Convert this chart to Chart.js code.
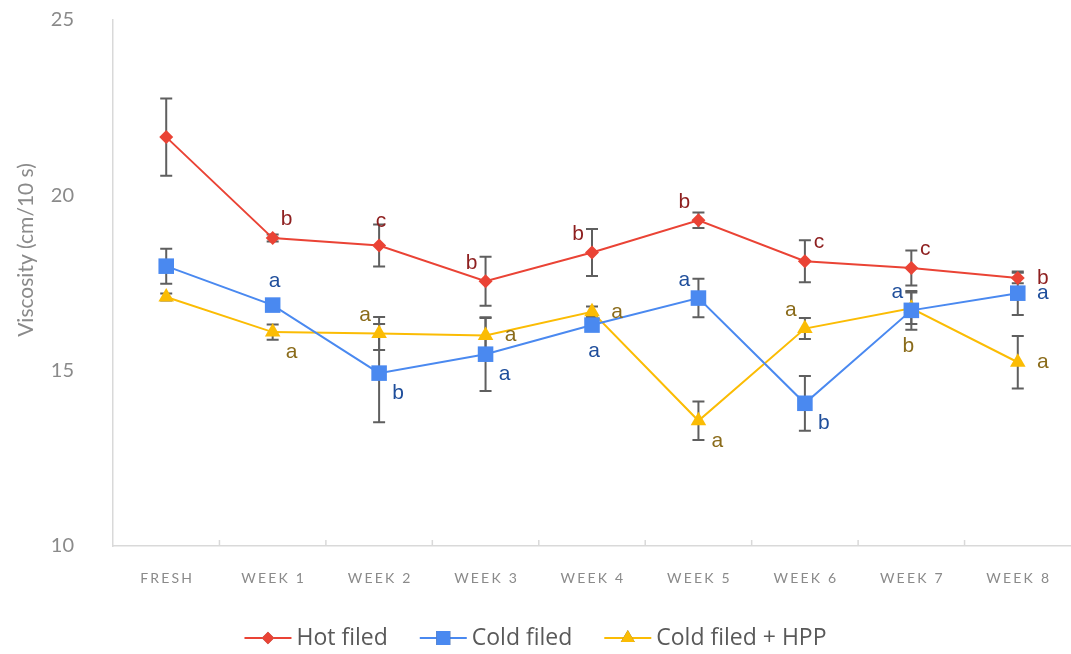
<!DOCTYPE html>
<html>
<head>
<meta charset="utf-8">
<script src="https://cdn.jsdelivr.net/npm/chart.js@4.4.1/dist/chart.umd.min.js"></script>
<style>
    html, body { margin: 0; padding: 0; background: #ffffff; overflow: hidden; }
    #wrap { width: 1071px; height: 654px; }
</style>
</head>
<body>
<div id="wrap"><canvas id="viscChart"></canvas></div>
<script>
// categories and values
const categories = ['FRESH', 'WEEK 1', 'WEEK 2', 'WEEK 3', 'WEEK 4', 'WEEK 5', 'WEEK 6', 'WEEK 7', 'WEEK 8'];
const yTicks = [10, 15, 20, 25];

const hotValues = [21.66, 18.78, 18.57, 17.55, 18.37, 19.29, 18.12, 17.93, 17.64];
const hotErrors = [1.1, 0.1, 0.6, 0.7, 0.67, 0.22, 0.6, 0.5, 0.15];
const hotLetters = ['', 'b', 'c', 'b', 'b', 'b', 'c', 'c', 'b'];

const coldValues = [17.98, 16.87, 14.93, 15.47, 16.3, 17.07, 14.07, 16.72, 17.21];
const coldErrors = [0.5, 0.15, 1.4, 1.05, 0.15, 0.55, 0.78, 0.55, 0.62];
const coldLetters = ['', 'a', 'b', 'a', 'a', 'a', 'b', 'a', 'a'];

const hppValues = [17.1, 16.1, 16.06, 16.0, 16.68, 13.57, 16.2, 16.78, 15.24];
const hppErrors = [0.1, 0.22, 0.47, 0.5, 0.15, 0.55, 0.3, 0.45, 0.75];
const hppLetters = ['', 'a', 'a', 'a', 'a', 'a', 'a', 'b', 'a'];

// where each letter sits relative to its point
const hotLetterPos = ['', 'ne', 'n', 'nw', 'nw', 'nw', 'ne', 'ne', 'e'];
const coldLetterPos = ['', 'n', 'se', 'se', 's', 'nw', 'se', 'nw', 'e'];
const hppLetterPos = ['', 'se', 'nw', 'e', 'e', 'se', 'nw', 'sb', 'e'];

const seriesLook = [
    { color: '#EA4335', letterColor: '#8E1F1F', pointStyle: 'rectRot', radius: 7 },
    { color: '#4A89F0', letterColor: '#1F4E9B', pointStyle: 'rect', radius: 11 },
    { color: '#FBBC04', letterColor: '#8A6B1A', pointStyle: 'triangle', radius: 9 }
];

const LETTER_OFFSETS = {
    n: [2, -24], s: [2, 26], sb: [-3, 38], e: [25, 0], ne: [14, -19],
    nw: [-14, -18], se: [19, 20]
};

function makeDataset(label, values, errors, letters, pos, look) {
    return {
        label: label,
        data: values,
        errors: errors,
        letters: letters,
        letterPos: pos,
        letterColor: look.letterColor,
        borderColor: look.color,
        backgroundColor: look.color,
        borderWidth: 2,
        pointStyle: look.pointStyle,
        pointRadius: look.radius,
        pointHoverRadius: look.radius,
        pointBorderWidth: 0,
        tension: 0
    };
}

const datasets = [
    makeDataset('Hot filed', hotValues, hotErrors, hotLetters, hotLetterPos, seriesLook[0]),
    makeDataset('Cold filed', coldValues, coldErrors, coldLetters, coldLetterPos, seriesLook[1]),
    makeDataset('Cold filed + HPP', hppValues, hppErrors, hppLetters, hppLetterPos, seriesLook[2])
];

// error bars go under the lines and markers
const errorBars = {
    id: 'errorBars',
    beforeDatasetsDraw(chart) {
        const ctx = chart.ctx;
        const y = chart.scales.y;
        ctx.save();
        ctx.strokeStyle = '#5f5f5f';
        ctx.lineWidth = 2;
        chart.data.datasets.forEach((ds, i) => {
            const meta = chart.getDatasetMeta(i);
            meta.data.forEach((pt, j) => {
                const e = ds.errors[j];
                const top = y.getPixelForValue(ds.data[j] + e);
                const bot = y.getPixelForValue(ds.data[j] - e);
                ctx.beginPath();
                ctx.moveTo(pt.x, top); ctx.lineTo(pt.x, bot);
                ctx.moveTo(pt.x - 6, top); ctx.lineTo(pt.x + 6, top);
                ctx.moveTo(pt.x - 6, bot); ctx.lineTo(pt.x + 6, bot);
                ctx.stroke();
            });
        });
        ctx.restore();
    }
};

// letters, x labels, tick marks, y title and legend
const decorations = {
    id: 'decorations',
    afterDraw(chart) {
        const ctx = chart.ctx;
        const x = chart.scales.x;
        const area = chart.chartArea;
        ctx.save();

        // significance letters
        ctx.font = '21px "Liberation Sans", Arial, sans-serif';
        ctx.textAlign = 'center';
        ctx.textBaseline = 'middle';
        chart.data.datasets.forEach((ds, i) => {
            const meta = chart.getDatasetMeta(i);
            ctx.fillStyle = ds.letterColor;
            meta.data.forEach((pt, j) => {
                if (!ds.letters[j]) return;
                const off = LETTER_OFFSETS[ds.letterPos[j]];
                ctx.fillText(ds.letters[j], pt.x + off[0], pt.y + off[1]);
            });
        });

        // small upward tick marks between categories
        ctx.strokeStyle = '#d9d9d9';
        ctx.lineWidth = 1.5;
        for (let i = 1; i < categories.length; i++) {
            const px = (x.getPixelForValue(i - 1) + x.getPixelForValue(i)) / 2;
            ctx.beginPath();
            ctx.moveTo(px, area.bottom);
            ctx.lineTo(px, area.bottom - 6);
            ctx.stroke();
        }

        // x category labels with letter spacing
        ctx.fillStyle = '#8a8a8a';
        ctx.font = '14px Lato, "Open Sans", sans-serif';
        ctx.letterSpacing = '2.2px';
        ctx.textAlign = 'center';
        categories.forEach((c, i) => {
            ctx.fillText(c, x.getPixelForValue(i) + 1, 578);
        });
        ctx.letterSpacing = '0px';

        // y axis title
        ctx.save();
        ctx.translate(26, 250);
        ctx.rotate(-Math.PI / 2);
        ctx.font = '21px Lato, "Open Sans", sans-serif';
        ctx.fillStyle = '#8a8a8a';
        ctx.fillText('Viscosity (cm/10 s)', 0, 0);
        ctx.restore();

        // legend
        ctx.font = '23px "Open Sans", "Noto Sans", sans-serif';
        ctx.textAlign = 'left';
        const lineW = 47, gap = 5, spacing = 32, ly = 638;
        const widths = chart.data.datasets.map(ds => lineW + gap + ctx.measureText(ds.label).width);
        const total = widths.reduce((a, b) => a + b, 0) + spacing * (widths.length - 1);
        let lx = chart.width / 2 - total / 2;
        chart.data.datasets.forEach((ds, i) => {
            const look = seriesLook[i];
            ctx.strokeStyle = look.color;
            ctx.lineWidth = 2;
            ctx.beginPath();
            ctx.moveTo(lx, ly); ctx.lineTo(lx + lineW, ly);
            ctx.stroke();
            Chart.helpers.drawPoint(ctx, {
                pointStyle: look.pointStyle,
                radius: look.radius * 0.9,
                borderWidth: 0
            }, lx + lineW / 2, ly);
            ctx.fillStyle = look.color;
            ctx.fill();
            ctx.fillStyle = '#595959';
            ctx.fillText(ds.label, lx + lineW + gap, ly);
            lx += widths[i] + spacing;
        });

        ctx.restore();
    }
};

function noScalePadding(scale) {
    scale.paddingTop = 0;
    scale.paddingBottom = 0;
    scale.paddingLeft = 0;
    scale.paddingRight = 0;
}

new Chart(document.getElementById('viscChart'), {
    type: 'line',
    data: { labels: categories, datasets: datasets },
    plugins: [errorBars, decorations],
    options: {
        responsive: true,
        maintainAspectRatio: false,
        animation: false,
        layout: { autoPadding: false, padding: { top: 20, right: 0, bottom: 48, left: 0 } },
        plugins: {
            legend: { display: false },
            tooltip: { enabled: false }
        },
        scales: {
            x: {
                offset: true,
                grid: { display: false },
                border: { color: '#d9d9d9', width: 1.5 },
                ticks: { display: false },
                afterFit: scale => { scale.height = 60; noScalePadding(scale); }
            },
            y: {
                min: yTicks[0],
                max: yTicks[yTicks.length - 1],
                afterBuildTicks: scale => { scale.ticks = yTicks.map(v => ({ value: v })); },
                grid: { display: false },
                border: { color: '#d9d9d9', width: 1.5 },
                ticks: {
                    color: '#8a8a8a',
                    padding: 31,
                    font: { family: 'Lato, "Open Sans", sans-serif', size: 20 }
                },
                afterFit: scale => { scale.width = 113; noScalePadding(scale); }
            }
        }
    }
});
</script>
</body>
</html>
